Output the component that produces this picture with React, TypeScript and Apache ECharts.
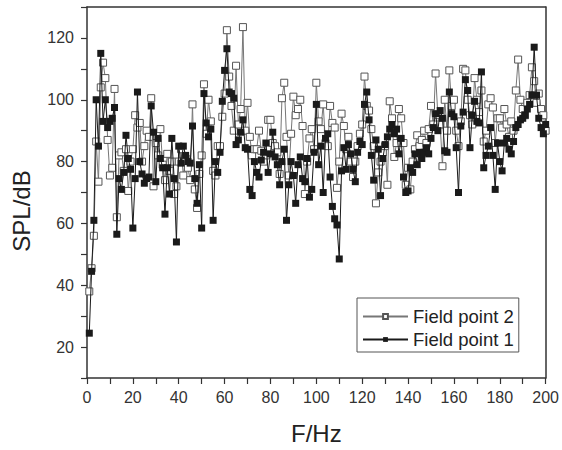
import React, { useEffect, useRef } from "react";
import * as echarts from "echarts";

// SPL (dB) at 1 Hz steps, 1..200 Hz
const fieldPoint1: number[] = [
  24.5, 44.5, 61, 100, 85, 115, 93, 100, 91, 93,
  94, 97.5, 56.5, 74.5, 71, 76.5, 88.5, 81, 77.5, 58.5,
  74.5, 102.5, 80, 76, 73, 74.5, 75, 98, 89.5, 73.5,
  87.5, 81, 78, 63, 78, 69.5, 87.5, 74.5, 54, 85,
  79.5, 85, 82, 80, 79.5, 91.5, 74.5, 66.5, 79, 58.5,
  102, 92.5, 88, 90.5, 61, 80, 76.5, 83, 99.5, 109.5,
  116.5, 102.5, 102, 100.5, 85.5, 87, 89.5, 93.5, 84.5, 84,
  71, 69, 80, 76.5, 75, 80.5, 83, 86, 76.5, 82.5,
  89.5, 81.5, 79, 72.5, 80, 84, 61, 72.5, 80, 75.5,
  66.5, 79, 81.5, 74.5, 73.5, 81, 68.5, 71, 83, 98.5,
  79, 85, 70, 87.5, 89, 75, 65.5, 61.5, 59.5, 48.5,
  77, 84.5, 77.5, 85.5, 82.5, 77.5, 73.5, 83, 86.5, 85.5,
  98.5, 102.5, 93.5, 82, 74, 87, 84, 69, 81, 85.5,
  88, 90.5, 92, 89, 90.5, 82.5, 87.5, 75, 70, 70.5,
  78, 76.5, 82.5, 79, 83, 81, 83, 84.5, 82.5, 87.5,
  91, 95.5, 90, 96.5, 94, 83.5, 83, 102.5, 95.5, 94.5,
  84.5, 70, 91.5, 96, 106.5, 103, 84.5, 95, 99.5, 93,
  92.5, 109, 78, 82, 85, 91, 82, 71, 86, 80,
  77, 86, 87.5, 84, 82.5, 86.5, 91, 92, 93.5, 94,
  95, 97, 98.5, 101.5, 117, 101.5, 94, 91, 89, 92,
];

const fieldPoint2: number[] = [
  38, 45.5, 56, 86.5, 73.5, 104, 112, 107, 87, 75.5,
  78, 103.5, 62, 82, 83, 77, 84, 70.5, 80, 84,
  95, 91, 92.5, 80, 85, 90, 88, 100.5, 72, 86,
  82, 90.5, 79, 74, 82.5, 77, 80, 69.5, 72, 80,
  84, 75.5, 81, 78, 74, 98.5, 71, 65, 76, 82,
  105, 89, 100, 93, 77, 75.5, 85, 85, 94.5, 102,
  122.5, 107.5, 98, 90, 111, 92, 97, 123.5, 90, 99,
  88, 82, 84, 84, 90, 83.5, 80, 82, 93.5, 93.5,
  86, 85, 83, 76, 100.5, 105.5, 88, 75.5, 89, 101,
  95, 97, 100, 91.5, 69.5, 80, 87.5, 90.5, 84, 105.5,
  93, 90.5, 98.5, 86, 85, 98, 92.5, 91, 71.5, 80,
  95.5, 91.5, 84, 88, 80, 75, 80, 85, 89, 92,
  107.5, 98, 96.5, 90.5, 85, 66.5, 76.5, 80, 83, 85,
  72.5, 99.5, 94, 81.5, 86, 97, 94, 86, 72.5, 78,
  71, 80, 84, 88.5, 85, 87, 90, 86, 90.5, 98,
  92, 108.5, 95, 92, 78.5, 100, 90, 109.5, 98, 100,
  90, 85, 93, 110, 109.5, 100, 95, 92, 107, 100,
  96, 103, 86.5, 90, 98.5, 100.5, 97.5, 86, 94, 94,
  91, 97, 92, 88, 93, 90, 103, 113, 100, 97,
  95, 99, 101.5, 110.5, 106, 99, 102, 97, 95, 90,
];

const xName = "F/Hz";
const yName = "SPL/dB";

const FONT = "'Liberation Sans', Arial, Helvetica, sans-serif";

export default function App() {
  const ref = useRef<HTMLDivElement>(null);
  useEffect(() => {
    if (!ref.current) return;
    const chart = echarts.init(ref.current, undefined, { renderer: "svg" });
    const toPts = (arr: number[]) => arr.map((v, i) => [i + 1, v]);
    chart.setOption({
      animation: false,
      backgroundColor: "#ffffff",
      textStyle: { fontFamily: FONT },
      grid: { left: 87, right: 13, top: 7, bottom: 66, containLabel: false },
      graphic: [
        {
          type: "text",
          x: 21,
          y: 211,
          rotation: Math.PI / 2,
          style: {
            text: yName,
            fontSize: 24,
            fontFamily: FONT,
            fill: "#222",
            align: "center",
            verticalAlign: "middle",
          },
        },
      ],
      legend: {
        orient: "vertical",
        left: 357,
        top: 298,
        data: ["Field point 2", "Field point 1"],
        backgroundColor: "#ffffff",
        borderColor: "#555",
        borderWidth: 1,
        borderRadius: 0,
        padding: [9, 5, 3, 5],
        itemGap: 4,
        itemWidth: 45,
        itemHeight: 6,
        textStyle: { fontSize: 18.5, color: "#222", fontFamily: FONT },
      },
      xAxis: [
        {
          type: "value",
          min: 0,
          max: 200,
          interval: 10,
          name: xName,
          nameLocation: "middle",
          nameGap: 43,
          nameTextStyle: { fontSize: 24, color: "#222", fontFamily: FONT },
          axisLine: { show: true, onZero: false, lineStyle: { color: "#333", width: 1.5 } },
          axisTick: { show: true, length: 6, lineStyle: { color: "#333", width: 1.2 } },
          axisLabel: {
            fontSize: 16,
            color: "#333",
            margin: 11,
            fontFamily: FONT,
            formatter: (v: number) => (v % 20 === 0 ? String(v) : ""),
          },
          splitLine: { show: false },
        },
        {
          type: "value",
          position: "top",
          min: 0,
          max: 200,
          axisLine: { show: true, onZero: false, lineStyle: { color: "#333", width: 1.5 } },
          axisTick: { show: false },
          axisLabel: { show: false },
          splitLine: { show: false },
        },
      ],
      yAxis: [
        {
          type: "value",
          min: 10,
          max: 130,
          interval: 10,
          axisLine: { show: true, onZero: false, lineStyle: { color: "#333", width: 1.5 } },
          axisTick: { show: true, length: 6, lineStyle: { color: "#333", width: 1.2 } },
          axisLabel: {
            fontSize: 16,
            color: "#333",
            margin: 13,
            fontFamily: FONT,
            formatter: (v: number) => (v % 20 === 0 ? String(v) : ""),
          },
          splitLine: { show: false },
        },
        {
          type: "value",
          position: "right",
          min: 10,
          max: 130,
          axisLine: { show: true, onZero: false, lineStyle: { color: "#333", width: 1.5 } },
          axisTick: { show: false },
          axisLabel: { show: false },
          splitLine: { show: false },
        },
      ],
      series: [
        {
          name: "Field point 2",
          type: "line",
          data: toPts(fieldPoint2),
          symbol: "rect",
          symbolSize: 7,
          showAllSymbol: true,
          lineStyle: { color: "#777", width: 1 },
          itemStyle: { color: "#ffffff", borderColor: "#555", borderWidth: 1 },
          emphasis: { disabled: true },
          z: 2,
        },
        {
          name: "Field point 1",
          type: "line",
          data: toPts(fieldPoint1),
          symbol: "rect",
          symbolSize: 7,
          showAllSymbol: true,
          lineStyle: { color: "#1a1a1a", width: 1 },
          itemStyle: { color: "#1a1a1a", borderColor: "#1a1a1a", borderWidth: 0 },
          emphasis: { disabled: true },
          z: 3,
        },
      ],
    });
    return () => chart.dispose();
  }, []);
  return (
    <div
      ref={ref}
      style={{ position: "absolute", left: 0, top: 0, width: 562, height: 450 }}
    />
  );
}
